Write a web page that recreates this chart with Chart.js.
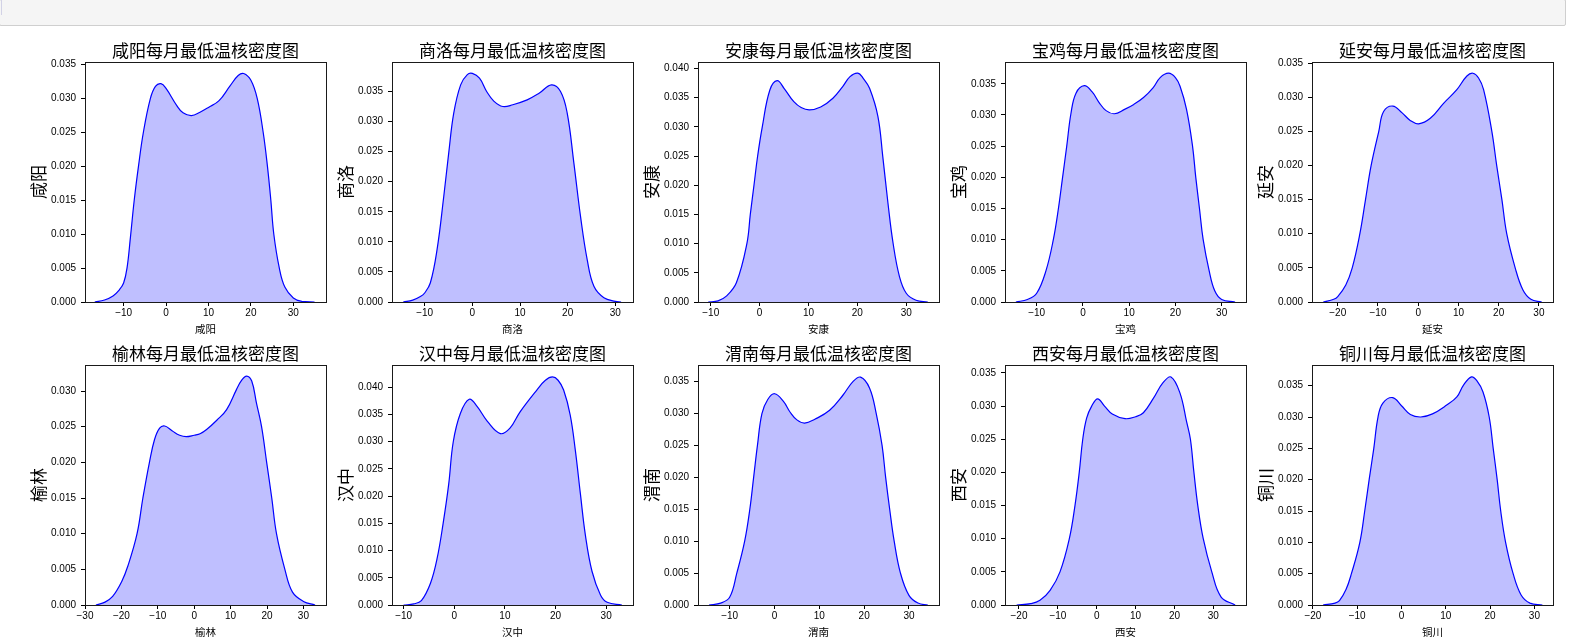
<!DOCTYPE html>
<html><head><meta charset="utf-8">
<script src="https://cdn.jsdelivr.net/npm/chart.js@4.4.1/dist/chart.umd.min.js"></script>
<style>
html,body{margin:0;padding:0;background:#fff;width:1572px;height:637px;overflow:hidden;position:relative}
#bar{position:absolute;left:-1px;top:-1px;width:1567px;height:27px;background:#f5f5f5;border:1px solid #cfcfcf;border-radius:2px;box-sizing:border-box}
#mark{position:absolute;left:1px;top:0;width:1px;height:15px;background:#d2d2e6}
canvas{position:absolute}
</style></head>
<body>
<div id="bar"></div><div id="mark"></div>
<script>
// ---------- data (x = temperature, y = density) ----------
const cities = ['咸阳','商洛','安康','宝鸡','延安','榆林','汉中','渭南','西安','铜川'];

const xianyangX = [-16.8,-14.5,-12.5,-11,-10,-9.2,-8.4,-7.5,-6.5,-5.35,-3.7,-2.5,-1.2,0,2.5,4,6,8,10,12.5,15,17,18.3,20,21.5,22.9,23.9,24.7,25.4,26.7,28,30,32,35];
const xianyangY = [0,0.0003,0.0009,0.0018,0.0028,0.005,0.0095,0.015,0.020,0.025,0.030,0.0318,0.0322,0.0315,0.029,0.0279,0.0275,0.028,0.0287,0.0297,0.0318,0.0334,0.0337,0.0327,0.030,0.025,0.020,0.015,0.010,0.005,0.0022,0.0006,0.0001,0];

const shangluoX = [-14.5,-12.5,-10.9,-10,-8.8,-7.4,-6.0,-4.95,-3.9,-2.45,-1.05,0,1.5,3,4.5,6.4,8.5,11.5,14,16.6,18.5,19.9,21.3,22.7,24.1,25.5,27.6,30,31.2];
const shangluoY = [0,0.0003,0.0009,0.0015,0.0032,0.0087,0.0175,0.0248,0.0314,0.0361,0.0378,0.038,0.0372,0.035,0.0334,0.0325,0.0328,0.0336,0.0347,0.0361,0.035,0.0314,0.0231,0.0142,0.007,0.0026,0.0007,0.0001,0];

const ankangX = [-10.5,-8.5,-6.8,-4.75,-2.6,-1.9,-1.15,-0.4,0.55,2.1,3.6,5,7,8.5,10.2,12.5,15,17,18.5,20.1,21.2,22.5,24.2,25.2,26.25,27.3,28.6,30,32,34.4];
const ankangY = [0,0.0002,0.001,0.0033,0.010,0.015,0.020,0.025,0.030,0.0363,0.0379,0.0366,0.0343,0.0333,0.0329,0.0334,0.0349,0.0369,0.0386,0.0392,0.0383,0.0366,0.0318,0.0249,0.017,0.0101,0.0044,0.0015,0.0003,0];

const baojiX = [-14.5,-12,-10,-8.0,-6.4,-5.3,-4.4,-3.5,-2.6,-1.5,0.3,2,3.5,5,6.8,9,11,13.1,15.2,16.7,18.5,20,21,22.4,23.7,24.4,25.2,26.0,27.3,28.5,30,32.9];
const baojiY = [0,0.0004,0.0014,0.005,0.010,0.015,0.020,0.025,0.0302,0.0335,0.0347,0.0337,0.032,0.0307,0.0302,0.0309,0.0317,0.0328,0.0344,0.036,0.0367,0.036,0.0346,0.0309,0.025,0.020,0.015,0.010,0.005,0.0018,0.0004,0];

const yananX = [-23.6,-21,-20,-18,-16.4,-14.5,-13.1,-11.7,-9.8,-8.6,-6.3,-4,-2,0.1,3.0,6.3,9.6,12.1,13.6,15,16.25,18.3,19.5,20.8,22.0,24.1,26,28,30.7];
const yananY = [0,0.0004,0.0008,0.0025,0.005,0.010,0.015,0.020,0.025,0.0279,0.0287,0.0277,0.0266,0.0261,0.0269,0.0291,0.0311,0.0331,0.0335,0.0328,0.0311,0.025,0.020,0.015,0.010,0.005,0.0018,0.0004,0];

const yulinX = [-27,-24.5,-22.4,-20,-18.2,-15.7,-14.1,-12.3,-10.9,-9.5,-8.1,-6,-4,-2.2,0,1.6,3.4,6.2,8.9,11.6,13,14.4,15.8,17.1,18.5,19.9,21.3,22.6,24.9,27,30,33.2];
const yulinY = [0,0.0004,0.0012,0.0032,0.0055,0.010,0.015,0.020,0.0232,0.0248,0.0251,0.0244,0.0238,0.0236,0.0238,0.024,0.0246,0.0259,0.0274,0.0302,0.0315,0.0321,0.0314,0.0283,0.025,0.020,0.015,0.010,0.005,0.0018,0.0005,0];

const hanzhongX = [-10,-8,-6.5,-4.7,-3.4,-2.2,-1.1,-0.2,1.2,2.96,4.5,6.5,9.1,11,13,16.3,18,19.4,20.5,21.6,22.9,23.9,24.9,25.9,27.2,28.9,30.2,33.1];
const hanzhongY = [0,0.0002,0.0008,0.004,0.0085,0.015,0.0222,0.030,0.0352,0.0378,0.0365,0.0338,0.0315,0.0325,0.0355,0.0395,0.0413,0.0419,0.0413,0.0395,0.0349,0.0285,0.0205,0.0128,0.0062,0.0018,0.0005,0];

const weinanX = [-14.6,-12,-10,-8.4,-6.65,-5.5,-4.65,-3.8,-2.8,-1.5,0.04,2,3.5,5,6.7,9,12.3,15.3,17.5,19.2,21.2,22.7,24,24.8,25.7,26.7,28.1,30,32,34.2];
const weinanY = [0,0.0003,0.0012,0.005,0.010,0.015,0.020,0.025,0.030,0.0322,0.0331,0.0319,0.0302,0.029,0.0285,0.0291,0.0305,0.0329,0.035,0.0357,0.034,0.030,0.025,0.020,0.015,0.010,0.005,0.0015,0.0003,0];

const xianX = [-20.6,-17,-14.6,-12,-9.45,-7.05,-5.6,-4.5,-3.6,-2.6,-1.3,0.24,2,4,7.3,10,12,14.6,17,19.1,21.4,23.1,24.1,25,26,27.4,29.6,32,35.6];
const xianY = [0,0.0002,0.0007,0.0022,0.005,0.010,0.015,0.020,0.025,0.0282,0.030,0.0311,0.030,0.0288,0.0281,0.0284,0.0290,0.0312,0.0335,0.0344,0.032,0.0277,0.025,0.020,0.015,0.010,0.005,0.0012,0];

const tongchuanX = [-17.7,-15,-14,-12.5,-11.3,-9.4,-8.3,-7.3,-6.25,-5.3,-4.2,-2.0,0,2,4.35,7,10.2,12.5,14,15.8,17,18.4,19.8,20.7,21.6,22.4,23.5,25.2,27,29,31.8];
const tongchuanY = [0,0.0003,0.0007,0.0025,0.005,0.010,0.015,0.020,0.025,0.030,0.0322,0.0331,0.0318,0.0304,0.030,0.0305,0.0319,0.0332,0.0351,0.0364,0.0358,0.034,0.030,0.025,0.020,0.015,0.010,0.005,0.0016,0.0003,0];

// axis limits [xmin, xmax, ymax]
const xianyangRange = [-19.1, 37.7, 0.0354];
const shangluoRange = [-16.85, 33.7, 0.0399];
const ankangRange = [-12.6, 36.7, 0.0411];
const baojiRange = [-16.85, 35.26, 0.0385];
const yananRange = [-26.4, 33.5, 0.03515];
const yulinRange = [-30, 36.2, 0.03365];
const hanzhongRange = [-12.3, 35.3, 0.0441];
const weinanRange = [-17.06, 36.7, 0.0376];
const xianRange = [-23.6, 38.4, 0.0362];
const tongchuanRange = [-20.2, 34.2, 0.0383];

// tick values
const xTicksA = [-10, 0, 10, 20, 30];
const xTicksB = [-20, -10, 0, 10, 20, 30];
const xTicksC = [-30, -20, -10, 0, 10, 20, 30];
const yTicks30 = [0, 0.005, 0.010, 0.015, 0.020, 0.025, 0.030];
const yTicks35 = [0, 0.005, 0.010, 0.015, 0.020, 0.025, 0.030, 0.035];
const yTicks40 = [0, 0.005, 0.010, 0.015, 0.020, 0.025, 0.030, 0.035, 0.040];

const series = [
  [xianyangX, xianyangY, xianyangRange, xTicksA, yTicks35],
  [shangluoX, shangluoY, shangluoRange, xTicksA, yTicks35],
  [ankangX, ankangY, ankangRange, xTicksA, yTicks40],
  [baojiX, baojiY, baojiRange, xTicksA, yTicks35],
  [yananX, yananY, yananRange, xTicksB, yTicks35],
  [yulinX, yulinY, yulinRange, xTicksC, yTicks30],
  [hanzhongX, hanzhongY, hanzhongRange, xTicksA, yTicks40],
  [weinanX, weinanY, weinanRange, xTicksA, yTicks35],
  [xianX, xianY, xianRange, xTicksB, yTicks35],
  [tongchuanX, tongchuanY, tongchuanRange, xTicksB, yTicks35]
];

// ---------- layout ----------
const PLOT_LEFT = [85, 392, 698, 1005, 1312];
const PLOT_TOP = [62, 365];
const PW = 241, PH = 240;
const LEFT = 85, TOP = 40, BOTTOM = 33, PADR = 8, PADB = 2;
const FONT = "'Noto Sans CJK SC', 'Noto Sans', sans-serif";
const TICKFONT = "'Liberation Sans', 'Noto Sans CJK SC', sans-serif";

const framePlugin = {
  id: 'frame',
  afterDraw(chart) {
    const {ctx, chartArea: a} = chart;
    ctx.save();
    ctx.strokeStyle = '#1a1a1a';
    ctx.lineWidth = 1;
    ctx.beginPath();
    ctx.moveTo(a.left, a.top + 0.5);
    ctx.lineTo(a.right + 1, a.top + 0.5);
    ctx.moveTo(a.right + 0.5, a.top);
    ctx.lineTo(a.right + 0.5, a.bottom + 1);
    ctx.stroke();
    ctx.restore();
  }
};

const fmtX = v => (v < 0 ? '\u2212' + Math.abs(v) : String(v));

series.forEach((s, i) => {
  const [xs, ys, range, xt, yt] = s;
  const name = cities[i];
  const col = i % 5, row = Math.floor(i / 5);
  const cv = document.createElement('canvas');
  const w = LEFT + PW + PADR, h = TOP + PH + BOTTOM + PADB;
  cv.width = w; cv.height = h;
  cv.style.left = (PLOT_LEFT[col] - LEFT) + 'px';
  cv.style.top = (PLOT_TOP[row] - TOP) + 'px';
  cv.style.width = w + 'px'; cv.style.height = h + 'px';
  document.body.appendChild(cv);

  new Chart(cv, {
    type: 'line',
    data: {
      datasets: [{
        data: xs.map((x, k) => ({x: x, y: ys[k]})),
        borderColor: '#0000ff',
        borderWidth: 1.2,
        backgroundColor: 'rgba(0,0,255,0.25)',
        fill: 'origin',
        pointRadius: 0,
        tension: 0.4
      }]
    },
    options: {
      responsive: false,
      animation: false,
      events: [],
      devicePixelRatio: 1,
      layout: {padding: {left: 0, top: 0, right: PADR, bottom: PADB}},
      plugins: {
        legend: {display: false},
        tooltip: {enabled: false},
        title: {
          display: true,
          text: name + '每月最低温核密度图',
          fullSize: false,
          color: '#000',
          font: {family: FONT, size: 17, weight: 'normal', lineHeight: 1.2},
          padding: {top: 18.5, bottom: 1.1}
        }
      },
      scales: {
        x: {
          type: 'linear',
          min: range[0], max: range[1],
          bounds: 'data',
          afterBuildTicks: sc => { sc.ticks = xt.map(v => ({value: v})); },
          afterFit: sc => { sc.height = BOTTOM; },
          grid: {display: true, drawOnChartArea: false, drawTicks: true, tickLength: 4, tickColor: '#000', tickWidth: 1},
          border: {display: true, color: '#1a1a1a', width: 1},
          ticks: {color: '#000', padding: 1, maxRotation: 0, autoSkip: false,
                  font: {family: TICKFONT, size: 10}, callback: v => fmtX(v)},
          title: {display: true, text: name, color: '#000', padding: {top: 0, bottom: 0},
                  font: {family: FONT, size: 10.5, lineHeight: 1.2}}
        },
        y: {
          type: 'linear',
          min: 0, max: range[2],
          bounds: 'data',
          afterBuildTicks: sc => { sc.ticks = yt.map(v => ({value: v})); },
          afterFit: sc => { sc.width = LEFT; },
          grid: {display: true, drawOnChartArea: false, drawTicks: true, tickLength: 4, tickColor: '#000', tickWidth: 1},
          border: {display: true, color: '#1a1a1a', width: 1},
          ticks: {color: '#000', padding: 5, autoSkip: false,
                  font: {family: TICKFONT, size: 10}, callback: v => Number(v).toFixed(3)},
          title: {display: true, text: name, color: '#000', padding: {top: 28, bottom: 0},
                  font: {family: FONT, size: 17, lineHeight: 1.2}}
        }
      }
    },
    plugins: [framePlugin]
  });
});
</script>
</body></html>
